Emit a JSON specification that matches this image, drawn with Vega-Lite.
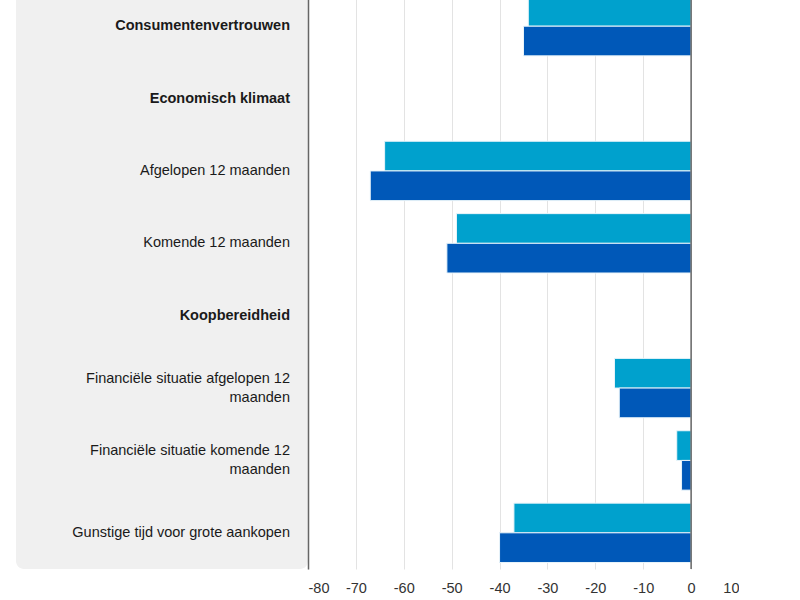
{
  "$schema": "https://vega.github.io/schema/vega-lite/v6.json",
  "description": "Consumentenvertrouwen en deelindicatoren, twee maanden vergeleken.",
  "padding": {"top": -11, "left": 16, "right": 0, "bottom": 0},
  "background": "white",
  "datasets": {
    "labels": [
      {"categorie": "Consumentenvertrouwen", "label": "Consumentenvertrouwen", "kop": true, "regels": 1},
      {"categorie": "Economisch klimaat", "label": "Economisch klimaat", "kop": true, "regels": 1},
      {"categorie": "Afgelopen 12 maanden", "label": "Afgelopen 12 maanden", "kop": false, "regels": 1},
      {"categorie": "Komende 12 maanden", "label": "Komende 12 maanden", "kop": false, "regels": 1},
      {"categorie": "Koopbereidheid", "label": "Koopbereidheid", "kop": true, "regels": 1},
      {"categorie": "Financiële situatie afgelopen 12 maanden", "label": "Financiële situatie afgelopen 12\nmaanden", "kop": false, "regels": 2},
      {"categorie": "Financiële situatie komende 12 maanden", "label": "Financiële situatie komende 12\nmaanden", "kop": false, "regels": 2},
      {"categorie": "Gunstige tijd voor grote aankopen", "label": "Gunstige tijd voor grote aankopen", "kop": false, "regels": 1}
    ],
    "bars": [
      {"categorie": "Consumentenvertrouwen", "serie": "vorige maand", "waarde": -34},
      {"categorie": "Consumentenvertrouwen", "serie": "deze maand", "waarde": -35},
      {"categorie": "Afgelopen 12 maanden", "serie": "vorige maand", "waarde": -64},
      {"categorie": "Afgelopen 12 maanden", "serie": "deze maand", "waarde": -67},
      {"categorie": "Komende 12 maanden", "serie": "vorige maand", "waarde": -49},
      {"categorie": "Komende 12 maanden", "serie": "deze maand", "waarde": -51},
      {"categorie": "Financiële situatie afgelopen 12 maanden", "serie": "vorige maand", "waarde": -16},
      {"categorie": "Financiële situatie afgelopen 12 maanden", "serie": "deze maand", "waarde": -15},
      {"categorie": "Financiële situatie komende 12 maanden", "serie": "vorige maand", "waarde": -3},
      {"categorie": "Financiële situatie komende 12 maanden", "serie": "deze maand", "waarde": -2},
      {"categorie": "Gunstige tijd voor grote aankopen", "serie": "vorige maand", "waarde": -37},
      {"categorie": "Gunstige tijd voor grote aankopen", "serie": "deze maand", "waarde": -40}
    ]
  },
  "hconcat": [
    {
      "width": 292,
      "height": 579,
      "view": {"fill": "#f0f0f0", "stroke": null, "cornerRadius": 8},
      "data": {"name": "labels"},
      "encoding": {
        "y": {
          "field": "categorie",
          "type": "nominal",
          "scale": {
            "domain": ["Consumentenvertrouwen", "Economisch klimaat", "Afgelopen 12 maanden", "Komende 12 maanden", "Koopbereidheid", "Financiële situatie afgelopen 12 maanden", "Financiële situatie komende 12 maanden", "Gunstige tijd voor grote aankopen"],
            "paddingInner": 0.18,
            "paddingOuter": 0.09
          },
          "axis": null
        },
        "x": {"value": "width"},
        "text": {"field": "label"}
      },
      "layer": [
        {
          "transform": [{"filter": "datum.kop"}],
          "mark": {"type": "text", "align": "right", "baseline": "middle", "dx": -18, "font": "Liberation Sans", "fontSize": 14.5, "fontWeight": "bold", "color": "#1a1a1a"}
        },
        {
          "transform": [{"filter": "!datum.kop && datum.regels == 1"}],
          "mark": {"type": "text", "align": "right", "baseline": "middle", "dx": -18, "font": "Liberation Sans", "fontSize": 14.5, "color": "#1a1a1a"}
        },
        {
          "transform": [{"filter": "datum.regels == 2"}],
          "mark": {"type": "text", "align": "right", "baseline": "middle", "dx": -18, "dy": -9.5, "font": "Liberation Sans", "fontSize": 14.5, "color": "#1a1a1a", "lineBreak": "\n", "lineHeight": 19}
        }
      ]
    },
    {
      "width": 431,
      "height": 579,
      "view": {"stroke": null},
      "layer": [
        {
          "data": {"name": "bars"},
          "mark": {"type": "bar", "stroke": "#e8f4fa", "strokeWidth": 1},
          "encoding": {
            "y": {
              "field": "categorie",
              "type": "nominal",
              "scale": {
                "domain": ["Consumentenvertrouwen", "Economisch klimaat", "Afgelopen 12 maanden", "Komende 12 maanden", "Koopbereidheid", "Financiële situatie afgelopen 12 maanden", "Financiële situatie komende 12 maanden", "Gunstige tijd voor grote aankopen"],
                "paddingInner": 0.18,
                "paddingOuter": 0.09
              },
              "axis": {"title": null, "labels": false, "ticks": false, "grid": false, "domain": true, "domainColor": "#666666", "domainWidth": 1.5}
            },
            "yOffset": {"field": "serie", "type": "nominal", "sort": ["vorige maand", "deze maand"], "scale": {"paddingInner": 0, "paddingOuter": 0}},
            "x": {
              "field": "waarde",
              "type": "quantitative",
              "scale": {"domain": [-80, 10], "nice": false},
              "axis": {"title": null, "values": [-80, -70, -60, -50, -40, -30, -20, -10, 0, 10], "labelExpr": "toString(datum.value)", "grid": true, "gridColor": "#e3e3e3", "domain": false, "ticks": false, "labelPadding": 12, "labelFont": "Liberation Sans", "labelFontSize": 14.5, "labelColor": "#333333"}
            },
            "color": {
              "field": "serie",
              "type": "nominal",
              "scale": {"domain": ["vorige maand", "deze maand"], "range": ["#00a1cd", "#0058b8"]},
              "legend": null
            },
            "tooltip": [
              {"field": "categorie", "type": "nominal"},
              {"field": "serie", "type": "nominal"},
              {"field": "waarde", "type": "quantitative"}
            ]
          }
        },
        {
          "data": {"values": [{"nul": 0}]},
          "mark": {"type": "rule", "color": "#666666", "strokeWidth": 1.5},
          "encoding": {"x": {"field": "nul", "type": "quantitative"}}
        }
      ]
    }
  ],
  "spacing": 0,
  "config": {"concat": {"spacing": 0}}
}
